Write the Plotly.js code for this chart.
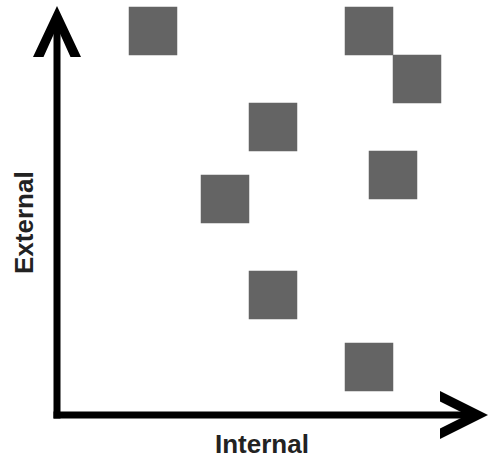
<!DOCTYPE html>
<html>
<head>
<meta charset="utf-8">
<script src="https://cdn.plot.ly/plotly-3.0.1.min.js"></script>
<style>html,body{margin:0;padding:0;background:#fff;}#chart{width:489px;height:458px;}</style>
</head>
<body>
<div id="chart"></div>
<script>
// Data (grid units)
var internalValues = [4, 13, 15, 9, 14, 7, 9, 13];
var externalValues = [16, 16, 14, 12, 10, 9, 5, 2];
var xLabel = 'Internal';
var yLabel = 'External';

// layout helpers: 1 unit = 24 px, origin at pixel (57, 415)
var U = 24, OX = 57, OY = 415, W = 489, H = 458;
function px(x){ return (x - OX) / U; }
function py(y){ return (OY - y) / U; }
function poly(pts){
  return 'M' + pts.map(function(p){ return px(p[0]) + ',' + py(p[1]); }).join('L') + 'Z';
}

var shapes = [
  // vertical shaft
  {type:'rect', x0:px(53.5), x1:px(60.5), y0:py(418.5), y1:py(22), fillcolor:'#000', line:{width:0}},
  // horizontal shaft
  {type:'rect', x0:px(53.5), x1:px(472), y0:py(418.5), y1:py(411.5), fillcolor:'#000', line:{width:0}},
  // vertical arrowhead
  {type:'path', path: poly([[57,6],[33,57],[43.5,57],[57,27],[70.5,57],[81,57]]), fillcolor:'#000', line:{width:0}},
  // horizontal arrowhead
  {type:'path', path: poly([[488,415],[440,391],[440,401.5],[467,415],[440,428.5],[440,439]]), fillcolor:'#000', line:{width:0}}
];

var trace = {
  type:'scatter', mode:'markers',
  x: internalValues, y: externalValues,
  marker:{symbol:'square', size:48.5, color:'#646464', line:{width:0}},
  hoverinfo:'skip'
};

var layout = {
  width:W, height:H,
  margin:{l:0,r:0,t:0,b:0,pad:0},
  paper_bgcolor:'#fff', plot_bgcolor:'#fff',
  showlegend:false,
  xaxis:{range:[px(0), px(W)], visible:false, fixedrange:true},
  yaxis:{range:[py(H), py(0)], visible:false, fixedrange:true},
  shapes: shapes,
  annotations:[
    {text:xLabel, x:px(261.5), y:py(443.5), xref:'x', yref:'y', showarrow:false,
     xanchor:'center', yanchor:'middle', borderpad:0,
     font:{family:'Liberation Sans, Arial, sans-serif', size:26, color:'#222', weight:'bold'}},
    {text:yLabel, x:px(24), y:py(223), xref:'x', yref:'y', showarrow:false, textangle:-90,
     xanchor:'center', yanchor:'middle', borderpad:0,
     font:{family:'Liberation Sans, Arial, sans-serif', size:26, color:'#222', weight:'bold'}}
  ]
};

Plotly.newPlot('chart', [trace], layout, {staticPlot:true, displayModeBar:false});
</script>
</body>
</html>
